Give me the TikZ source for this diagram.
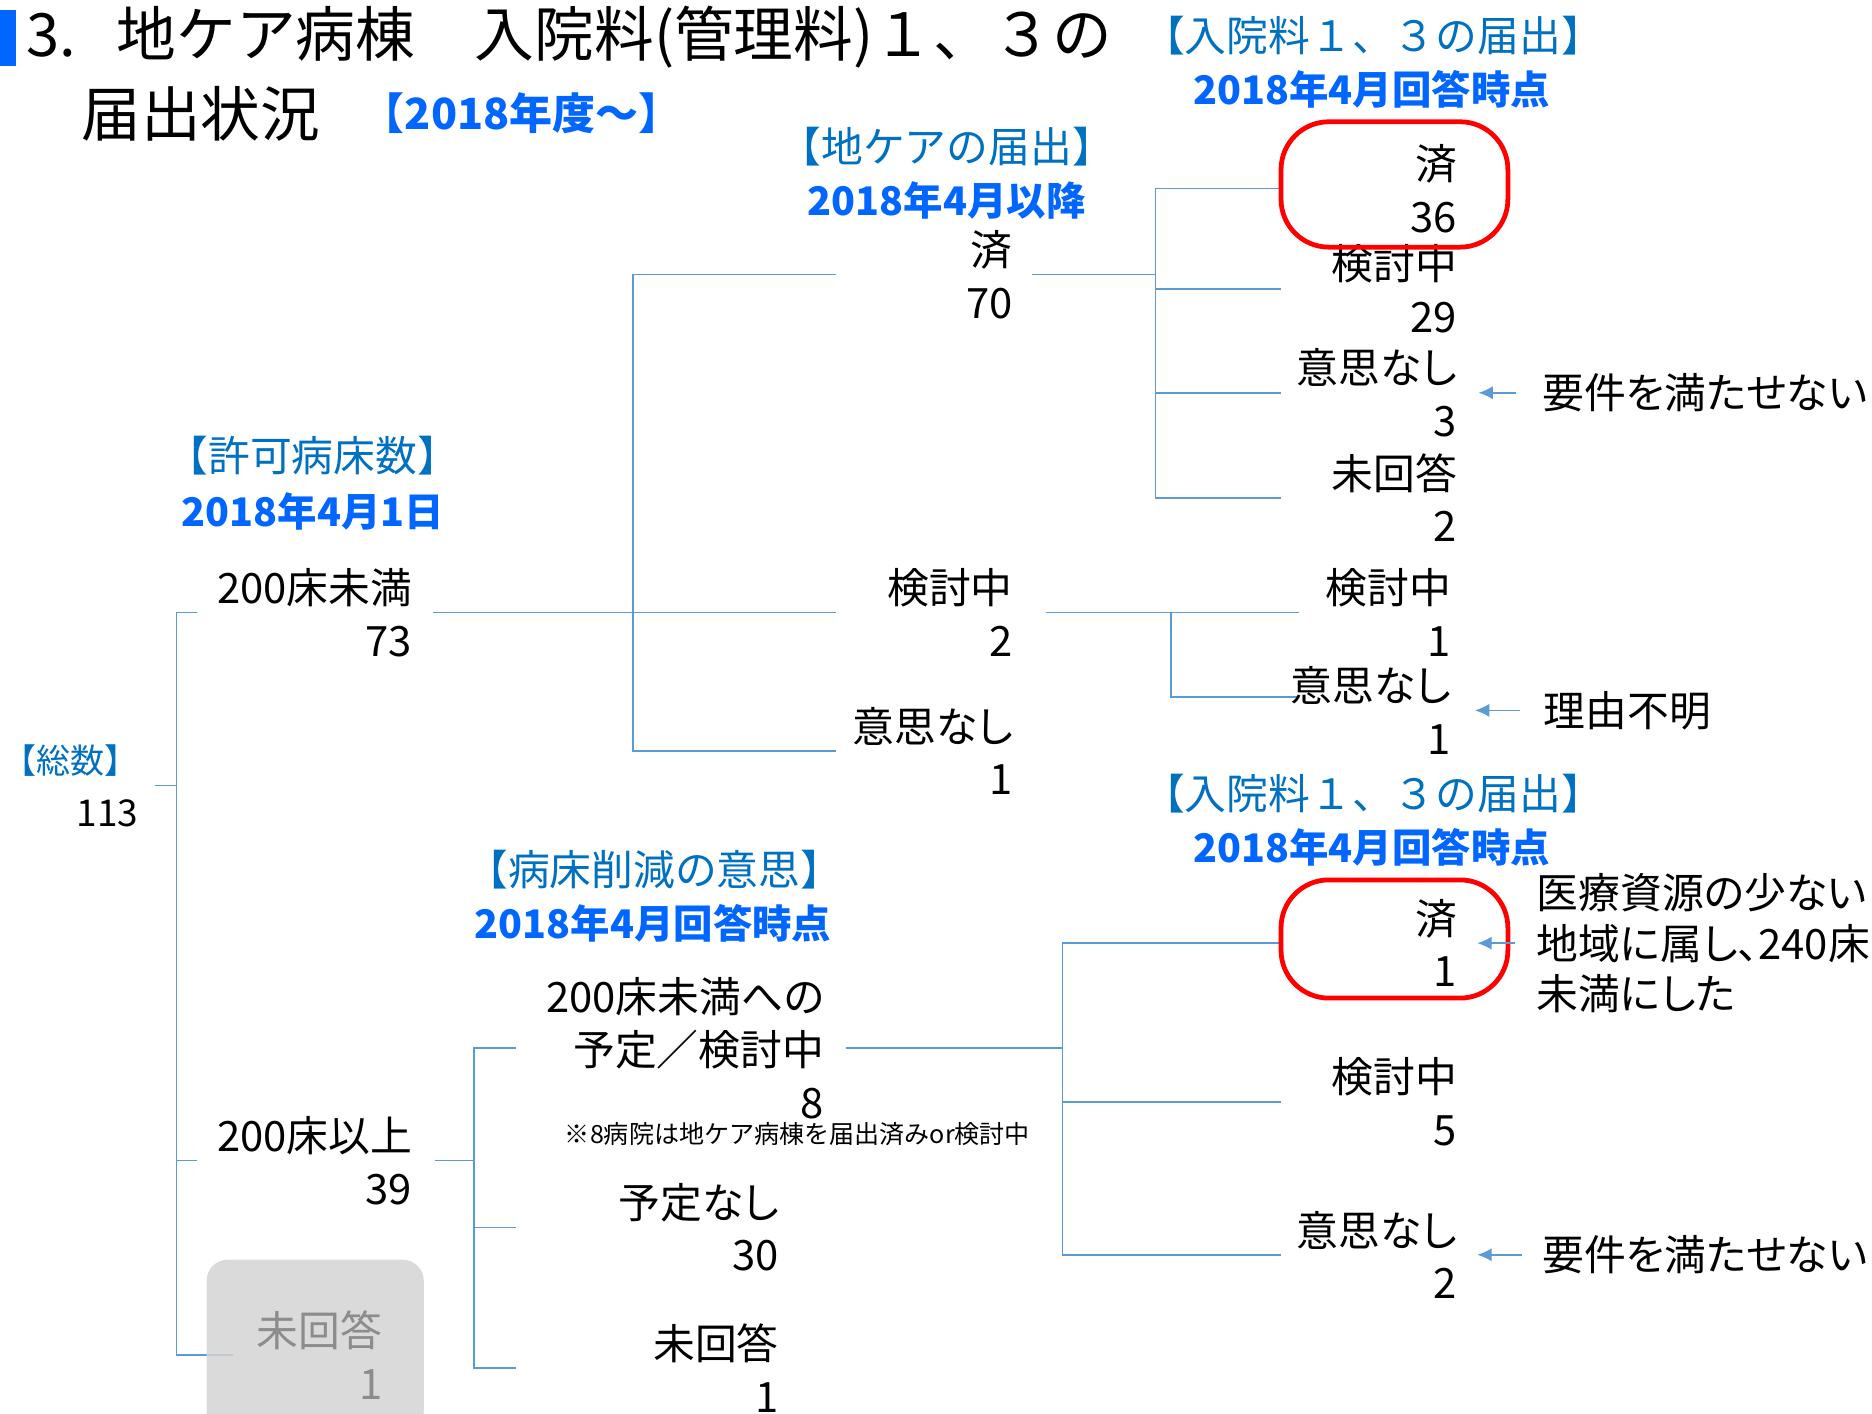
\documentclass[tikz,border=0pt]{standalone}
\usepackage{fontspec}
\setmainfont{Noto Sans CJK JP}
\newfontfamily\propfont[RawFeature=+palt]{Noto Sans CJK JP}
\usepackage{tikz}
\usetikzlibrary{arrows.meta}
\pgfdeclarelayer{background}
\pgfsetlayers{background,main}

\definecolor{linkblue}{HTML}{5B9BD5}
\definecolor{headblue}{HTML}{0070C0}
\definecolor{dateblue}{HTML}{0066FF}
\definecolor{boxgrey}{HTML}{D3D3D3}
\definecolor{textgrey}{HTML}{8C8C8C}

\newcommand{\bodyfont}{\propfont\fontsize{35}{44}\selectfont}
\newcommand{\headfont}{\fontsize{35}{42}\selectfont}
\newcommand{\datefont}{\fontsize{33}{40}\selectfont\bfseries}
\newcommand{\titlefont}{\fontsize{50}{60}\selectfont}
\newcommand{\notefont}{\fontsize{21}{25}\selectfont}

\tikzstyle{item} = [inner sep=0pt, align=right, font=\bodyfont, anchor=west]
\tikzstyle{heading} = [inner sep=0pt, text=headblue, font=\headfont]
\tikzstyle{datetext} = [inner sep=0pt, text=dateblue, font=\datefont]
\tikzstyle{remark} = [inner sep=0pt, align=left, font=\bodyfont, anchor=west]
\tikzstyle{branch} = [draw=linkblue, line width=1.3pt]
\tikzstyle{pointer} = [draw=linkblue, line width=1.3pt, -{Latex[length=12pt,width=11pt]}]
\tikzstyle{hilite} = [draw=red, line width=4pt, rounded corners=40pt]

\begin{document}
\begin{tikzpicture}[x=1pt, y=-1pt]
\useasboundingbox (0,0) rectangle (1568,1184);

% title
\fill[dateblue] (0,8) rectangle (13,55);
\node[anchor=west, inner sep=0pt, font=\titlefont] (title1) at (22,31) {3.\hspace{0.68em}地ケア病棟　入院料(管理料)１、３の};
\node[anchor=west, inner sep=0pt, font=\titlefont] (title2) at (68,95) {届出状況};
\node[anchor=west, datetext, font=\fontsize{36}{42}\selectfont\bfseries] (title3) at (303,95) {【2018年度～】};

% headings
\node[heading] (hBeds) at (262,382) {【許可病床数】};
\node[datetext] (hBedsDate) at (262,428) {2018年4月1日};
\node[heading] (hChiiki) at (793,123) {【地ケアの届出】};
\node[datetext] (hChiikiDate) at (793,168) {2018年4月以降};
\node[heading] (hFeeTop) at (1150,30) {【入院料１、３の届出】};
\node[datetext] (hFeeTopDate) at (1149,75) {2018年4月回答時点};
\node[heading] (hFeeLow) at (1150,665) {【入院料１、３の届出】};
\node[datetext] (hFeeLowDate) at (1149,710) {2018年4月回答時点};
\node[heading] (hReduce) at (548,728) {【病床削減の意思】};
\node[datetext] (hReduceDate) at (547,773) {2018年4月回答時点};

\node[item, anchor=east, text width=114pt, font=\fontsize{31}{44}\selectfont] (total) at (116,658) {\textcolor{headblue}{\fontsize{28.5}{44}\selectfont【総数】}\\113};

\node[item, text width=180pt] (under200) at (165,513) {200床未満\\73};
\node[item, text width=180pt] (over200) at (165,972) {200床以上\\39};
\fill[boxgrey, fill opacity=0.85, rounded corners=18pt] (173,1055) rectangle (355,1200);
\node[item, text width=125pt, text=textgrey] (noreply) at (195,1135) {未回答\\1};

\node[item, text width=148pt] (done70) at (700,230) {済\\70};
\node[item, text width=148pt] (review2) at (700,513) {検討中\\2};
\node[item, text width=148pt] (nointent1) at (700,629) {意思なし\\1};

\node[item, text width=147pt] (done36) at (1073,158) {済\\36};
\node[item, text width=147pt] (review29) at (1073,242) {検討中\\29};
\node[item, text width=147pt] (nointent3) at (1073,329) {意思なし\\3};
\node[item, text width=147pt] (noreply2) at (1073,417) {未回答\\2};

\node[item, text width=140pt] (review1) at (1075,513) {検討中\\1};
\node[item, text width=140pt] (nointent1b) at (1075,595) {意思なし\\1};

\node[item, text width=258pt] (plan8) at (432,878) {200床未満への\\予定／検討中\\8};
\node[font=\notefont, inner sep=0pt] (plannote) at (668,950) {※8病院は地ケア病棟を届出済みor検討中};
\node[item, text width=220pt] (noplan30) at (432,1028) {予定なし\\30};
\node[item, text width=220pt] (noreply1) at (432,1146) {未回答\\1};

\node[item, text width=147pt] (done1) at (1073,790) {済\\1};
\node[item, text width=147pt] (review5) at (1073,923) {検討中\\5};
\node[item, text width=147pt] (nointent2) at (1073,1051) {意思なし\\2};

\node[remark] (reqTop) at (1292,329) {要件を満たせない};
\node[remark] (unknown) at (1293,595) {理由不明};
\node[remark, font=\propfont\fontsize{35}{42}\selectfont] (region) at (1287,790) {医療資源の少ない\\地域に属し、240床\\未満にした};
\node[remark] (reqLow) at (1292,1051) {要件を満たせない};

\draw[hilite] (1073,102) rectangle (1263,207);
\draw[hilite] (1073,737) rectangle (1263,836);

\begin{pgfonlayer}{background}
\coordinate (busTotal) at (148,658);
\draw[branch, shorten <=14pt] (total.east) -- (busTotal);
\draw[branch] (under200.west) -| (busTotal) |- (over200.west);
\draw[branch] (busTotal) |- (noreply.west);

\coordinate (busUnder) at (530,513);
\draw[branch, shorten <=17pt] (under200.east) -- (review2.west);
\draw[branch] (done70.west) -| (busUnder) |- (nointent1.west);

\coordinate (busDone) at (968,230);
\draw[branch, shorten <=16pt] (done70.east) -- (busDone);
\draw[branch] (done36.west) -| (busDone) |- (noreply2.west);
\draw[branch] (busDone |- review29.west) -- (review29.west);
\draw[branch] (busDone |- nointent3.west) -- (nointent3.west);

\coordinate (busReview) at (981,513);
\draw[branch, shorten <=28pt, shorten >=-13pt] (review2.east) -- (review1.west);
\draw[branch, shorten >=-13pt] (busReview) |- ([yshift=11pt]nointent1b.west);

\coordinate (busOver) at (397,972);
\draw[branch, shorten <=19pt] (over200.east) -- (busOver);
\draw[branch] (plan8.west) -| (busOver) |- (noreply1.west);
\draw[branch] (busOver |- noplan30.west) -- (noplan30.west);

\coordinate (busPlan) at (890,878);
\draw[branch, shorten <=18pt] (plan8.east) -- (busPlan);
\draw[branch] (done1.west) -| (busPlan) |- (nointent2.west);
\draw[branch] (busPlan |- review5.west) -- (review5.west);
\end{pgfonlayer}

\draw[pointer, shorten <=22pt, shorten >=18pt] (reqTop.west) -- (nointent3.east);
\draw[pointer, shorten <=20pt, shorten >=20pt] (unknown.west) -- (nointent1b.east);
\draw[pointer, shorten <=18pt, shorten >=17pt] (region.west) -- (done1.east);
\draw[pointer, shorten <=17pt, shorten >=17pt] (reqLow.west) -- (nointent2.east);
\end{tikzpicture}
\end{document}
